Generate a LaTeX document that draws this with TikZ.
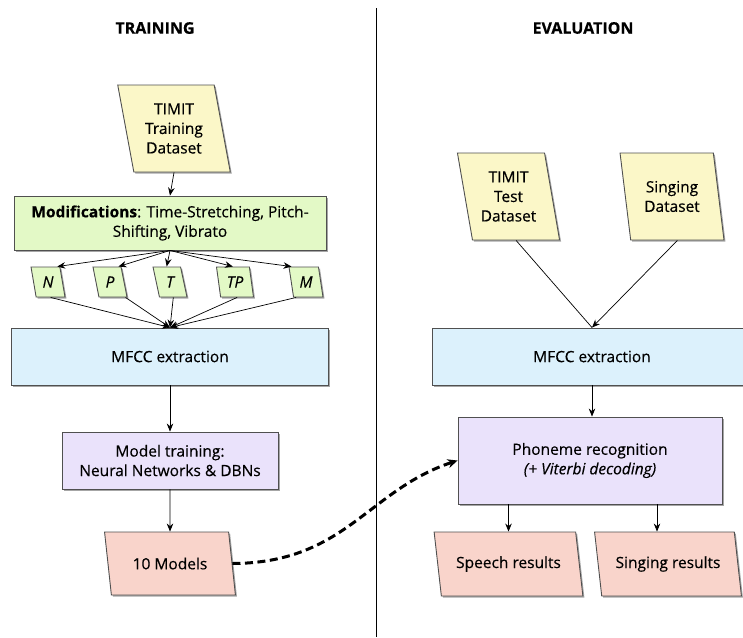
\documentclass[tikz,border=0pt]{standalone}
\usepackage{fontspec}
\setmainfont{Open Sans}[FakeBold=0.35]
\usetikzlibrary{shapes.geometric,arrows.meta,shadows}
\definecolor{dsyellow}{RGB}{251,247,200}
\definecolor{modgreen}{RGB}{227,249,198}
\definecolor{featblue}{RGB}{220,241,252}
\definecolor{proclav}{RGB}{234,226,251}
\definecolor{respink}{RGB}{249,212,203}
\definecolor{edgegray}{RGB}{80,80,80}
\tikzset{
  shade/.style={drop shadow={shadow xshift=1.5pt,shadow yshift=-1.5pt,opacity=0.35,fill=black}},
  box/.style={draw=edgegray,line width=0.9pt,rectangle,shade,align=center,font=\fontsize{15.5}{19.5}\selectfont},
  para/.style={draw=edgegray,line width=0.9pt,trapezium,trapezium left angle=103,trapezium right angle=77,
    trapezium stretches=true,shade,align=center,inner sep=0pt,font=\fontsize{15.5}{19.5}\selectfont},
  result/.style={para,trapezium left angle=110,trapezium right angle=70,minimum height=64pt},
  small/.style={para,trapezium left angle=102,trapezium right angle=78,minimum width=34pt,minimum height=30pt,font=\fontsize{15.5}{16}\selectfont\itshape},
  arr/.style={-{Stealth[length=8pt,width=6.5pt]},line width=0.7pt},
  title/.style={font=\fontsize{16}{20}\selectfont\bfseries}
}
\begin{document}
\begin{tikzpicture}[x=1pt,y=-1pt]
\useasboundingbox (0,0) rectangle (743,637);
% column divider
\draw[line width=0.7pt] (376,8) -- (376,637);
\node[title] (ttrain) at (155,28) {TRAINING};
\node[title] (teval) at (583,28) {EVALUATION};

% training column
\node[para,fill=dsyellow,minimum width=113pt,minimum height=87pt] (timittr) at (174,128.5) {TIMIT\\Training\\Dataset};
\node[box,fill=modgreen,minimum width=312pt,minimum height=54pt] (mods) at (170,223)
  {\textbf{Modifications}: Time-Stretching, Pitch-\\Shifting, Vibrato};
\node[small,fill=modgreen] (vN) at (48,282) {N};
\node[small,fill=modgreen] (vP) at (110,282) {P};
\node[small,fill=modgreen] (vT) at (170,282) {T};
\node[small,fill=modgreen,minimum width=37pt] (vTP) at (235,282) {TP};
\node[small,fill=modgreen] (vM) at (306,282) {M};
\node[box,fill=featblue,minimum width=317pt,minimum height=57pt] (mfcctr) at (170,356.5) {MFCC extraction};
\node[box,fill=proclav,minimum width=216pt,minimum height=57pt] (train) at (170,460.5) {Model training:\\Neural Networks \& DBNs};
\node[result,fill=respink,minimum width=131pt,minimum height=63pt] (models) at (170,563.5) {10 Models};

\draw[arr] (timittr.south) -- (mods.north);
\draw[arr] (mods.south) -- ([xshift=-3pt]vN.top right corner);
\draw[arr] (mods.south) -- ([xshift=-3pt]vP.top right corner);
\draw[arr] (mods.south) -- (vT.top side);
\draw[arr] (mods.south) -- (vTP.top side);
\draw[arr] (mods.south) -- ([xshift=3pt]vM.top left corner);
\draw[arr] (vN.bottom side) -- (mfcctr.north);
\draw[arr] ([xshift=-2pt]vP.bottom right corner) -- (mfcctr.north);
\draw[arr] (vT.bottom side) -- (mfcctr.north);
\draw[arr] (vTP.bottom side) -- (mfcctr.north);
\draw[arr] ([xshift=3pt]vM.bottom left corner) -- (mfcctr.north);
\draw[arr] (mfcctr.south) -- (train.north);
\draw[arr] (train.south) -- (models.north);

% evaluation column
\node[para,fill=dsyellow,minimum width=103pt,minimum height=87pt] (timitte) at (508.5,196.5) {TIMIT\\Test\\Dataset};
\node[para,fill=dsyellow,minimum width=104pt,minimum height=87pt] (singds) at (672,196.5) {Singing\\Dataset};
\node[box,fill=featblue,minimum width=320pt,minimum height=57pt] (mfccev) at (592,356.5) {MFCC extraction};
\node[box,fill=proclav,minimum width=264pt,minimum height=87pt] (phon) at (590,460.5)
  {Phoneme recognition\\\textit{(+ Viterbi decoding)}};
\node[result,fill=respink,minimum width=149pt] (speech) at (508.5,564) {Speech results};
\node[result,fill=respink,minimum width=147pt] (singres) at (668,564) {Singing results};

\draw[line width=0.7pt] (timitte.bottom side) -- (mfccev.north);
\draw[arr] (singds.bottom side) -- (mfccev.north);
\draw[arr] (mfccev.south) -- (mfccev.south |- phon.north);
\draw[arr] (phon.south -| speech.north) -- (speech.north);
\draw[arr] ([xshift=-11pt]singres.north |- phon.south) -- ([xshift=-11pt]singres.north);

% trained models feed the recogniser
\draw[-{Stealth[length=10pt,width=9pt]},line width=3pt,dash pattern=on 8pt off 4.5pt]
  (models.east) .. controls (345,563) and (368,490) .. (phon.west);
\end{tikzpicture}
\end{document}
